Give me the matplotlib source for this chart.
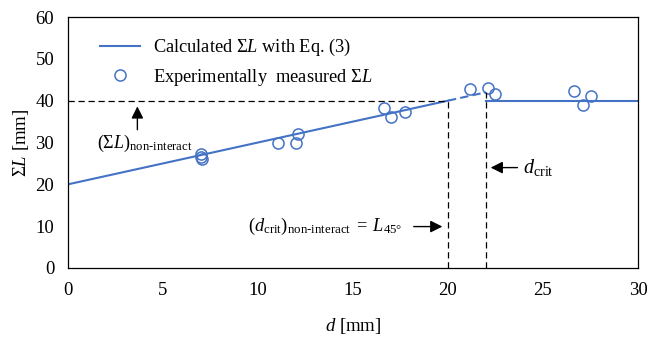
import matplotlib
matplotlib.use("Agg")
import matplotlib.pyplot as plt

plt.rcParams['font.family'] = ['Liberation Serif', 'DejaVu Serif']
plt.rcParams['mathtext.fontset'] = 'custom'
plt.rcParams['mathtext.rm'] = 'Liberation Serif'
plt.rcParams['mathtext.it'] = 'Liberation Serif:italic'
plt.rcParams['mathtext.bf'] = 'Liberation Serif:bold'

# calculated sum of L (Eq. 3)
d_calc = [0, 20]
L_calc = [20, 40]
d_calc_dash = [20, 22]
L_calc_dash = [40, 42]
d_flat = [22, 30]
L_flat = [40, 40]

# measured points
d_exp = [7.0, 7.0, 7.05, 11.05, 12.0, 12.1, 16.65, 17.0, 17.75,
         21.15, 22.1, 22.45, 26.65, 27.1, 27.55]
L_exp = [27.2, 26.6, 26.1, 29.8, 29.8, 32.0, 38.2, 36.2, 37.4,
         42.7, 43.0, 41.6, 42.4, 39.0, 41.0]

L_nonint = 40
d_nonint = 20
d_crit = 22
L_crit = 42

blue = '#4472C4'

fig = plt.figure(figsize=(6.51, 3.40), dpi=100)
ax = fig.add_axes([0.1045, 0.2118, 0.8755, 0.7382])

ax.plot(d_calc, L_calc, color=blue, lw=1.5, label=r'Calculated $\Sigma L$ with Eq. (3)')
ax.plot(d_calc_dash, L_calc_dash, color=blue, lw=1.5, ls=(0, (4, 2)))
ax.plot(d_flat, L_flat, color=blue, lw=1.5)
ax.plot(d_exp, L_exp, 'o', mfc='none', mec=blue, mew=1.1, ms=8,
        label=r'Experimentally  measured $\Sigma L$')

# guide lines
ax.plot([0, d_nonint], [L_nonint, L_nonint], color='k', lw=0.9, ls=(0, (5, 3)))
ax.plot([d_nonint, d_nonint], [0, L_nonint], color='k', lw=0.9, ls=(0, (5, 3)))
ax.plot([d_crit, d_crit], [0, L_crit], color='k', lw=0.9, ls=(0, (5, 3)))

arrow = dict(arrowstyle='-|>', color='k', lw=1.0, mutation_scale=18)
ax.annotate('', xy=(3.65, 39.3), xytext=(3.65, 32.4), arrowprops=arrow)
ax.text(1.5, 29.7, r'$(\Sigma L)_{\text{non-interact}}$', fontsize=13, va='center')

ax.annotate('', xy=(22.1, 24.0), xytext=(23.8, 24.0), arrowprops=arrow)
ax.text(23.95, 24.0, r'$d_{\mathrm{crit}}$', fontsize=14.5, va='center')

ax.annotate('', xy=(19.85, 9.9), xytext=(18.05, 9.9), arrowprops=arrow)
ax.text(17.6, 9.9, r'$(d_{\mathrm{crit}})_{\text{non-interact}}\;=\;L_{45°}$',
        fontsize=13.2, va='center', ha='right')

ax.set_xlim(0, 30)
ax.set_ylim(0, 60)
ax.set_xticks(range(0, 31, 5))
ax.set_yticks(range(0, 61, 10))
ax.tick_params(length=0, labelsize=13.5, pad=10)
ax.set_xlabel(r'$d$ [mm]', fontsize=13.5, labelpad=12)
ax.set_ylabel(r'$\Sigma L$ [mm]', fontsize=13.5, labelpad=3)
for s in ax.spines.values():
    s.set_linewidth(0.9)

ax.legend(loc='upper left', bbox_to_anchor=(0.027, 0.985), frameon=False,
          fontsize=13.2, handlelength=2.2, handletextpad=0.7, labelspacing=0.45)

fig.savefig('out.png', dpi=100)
